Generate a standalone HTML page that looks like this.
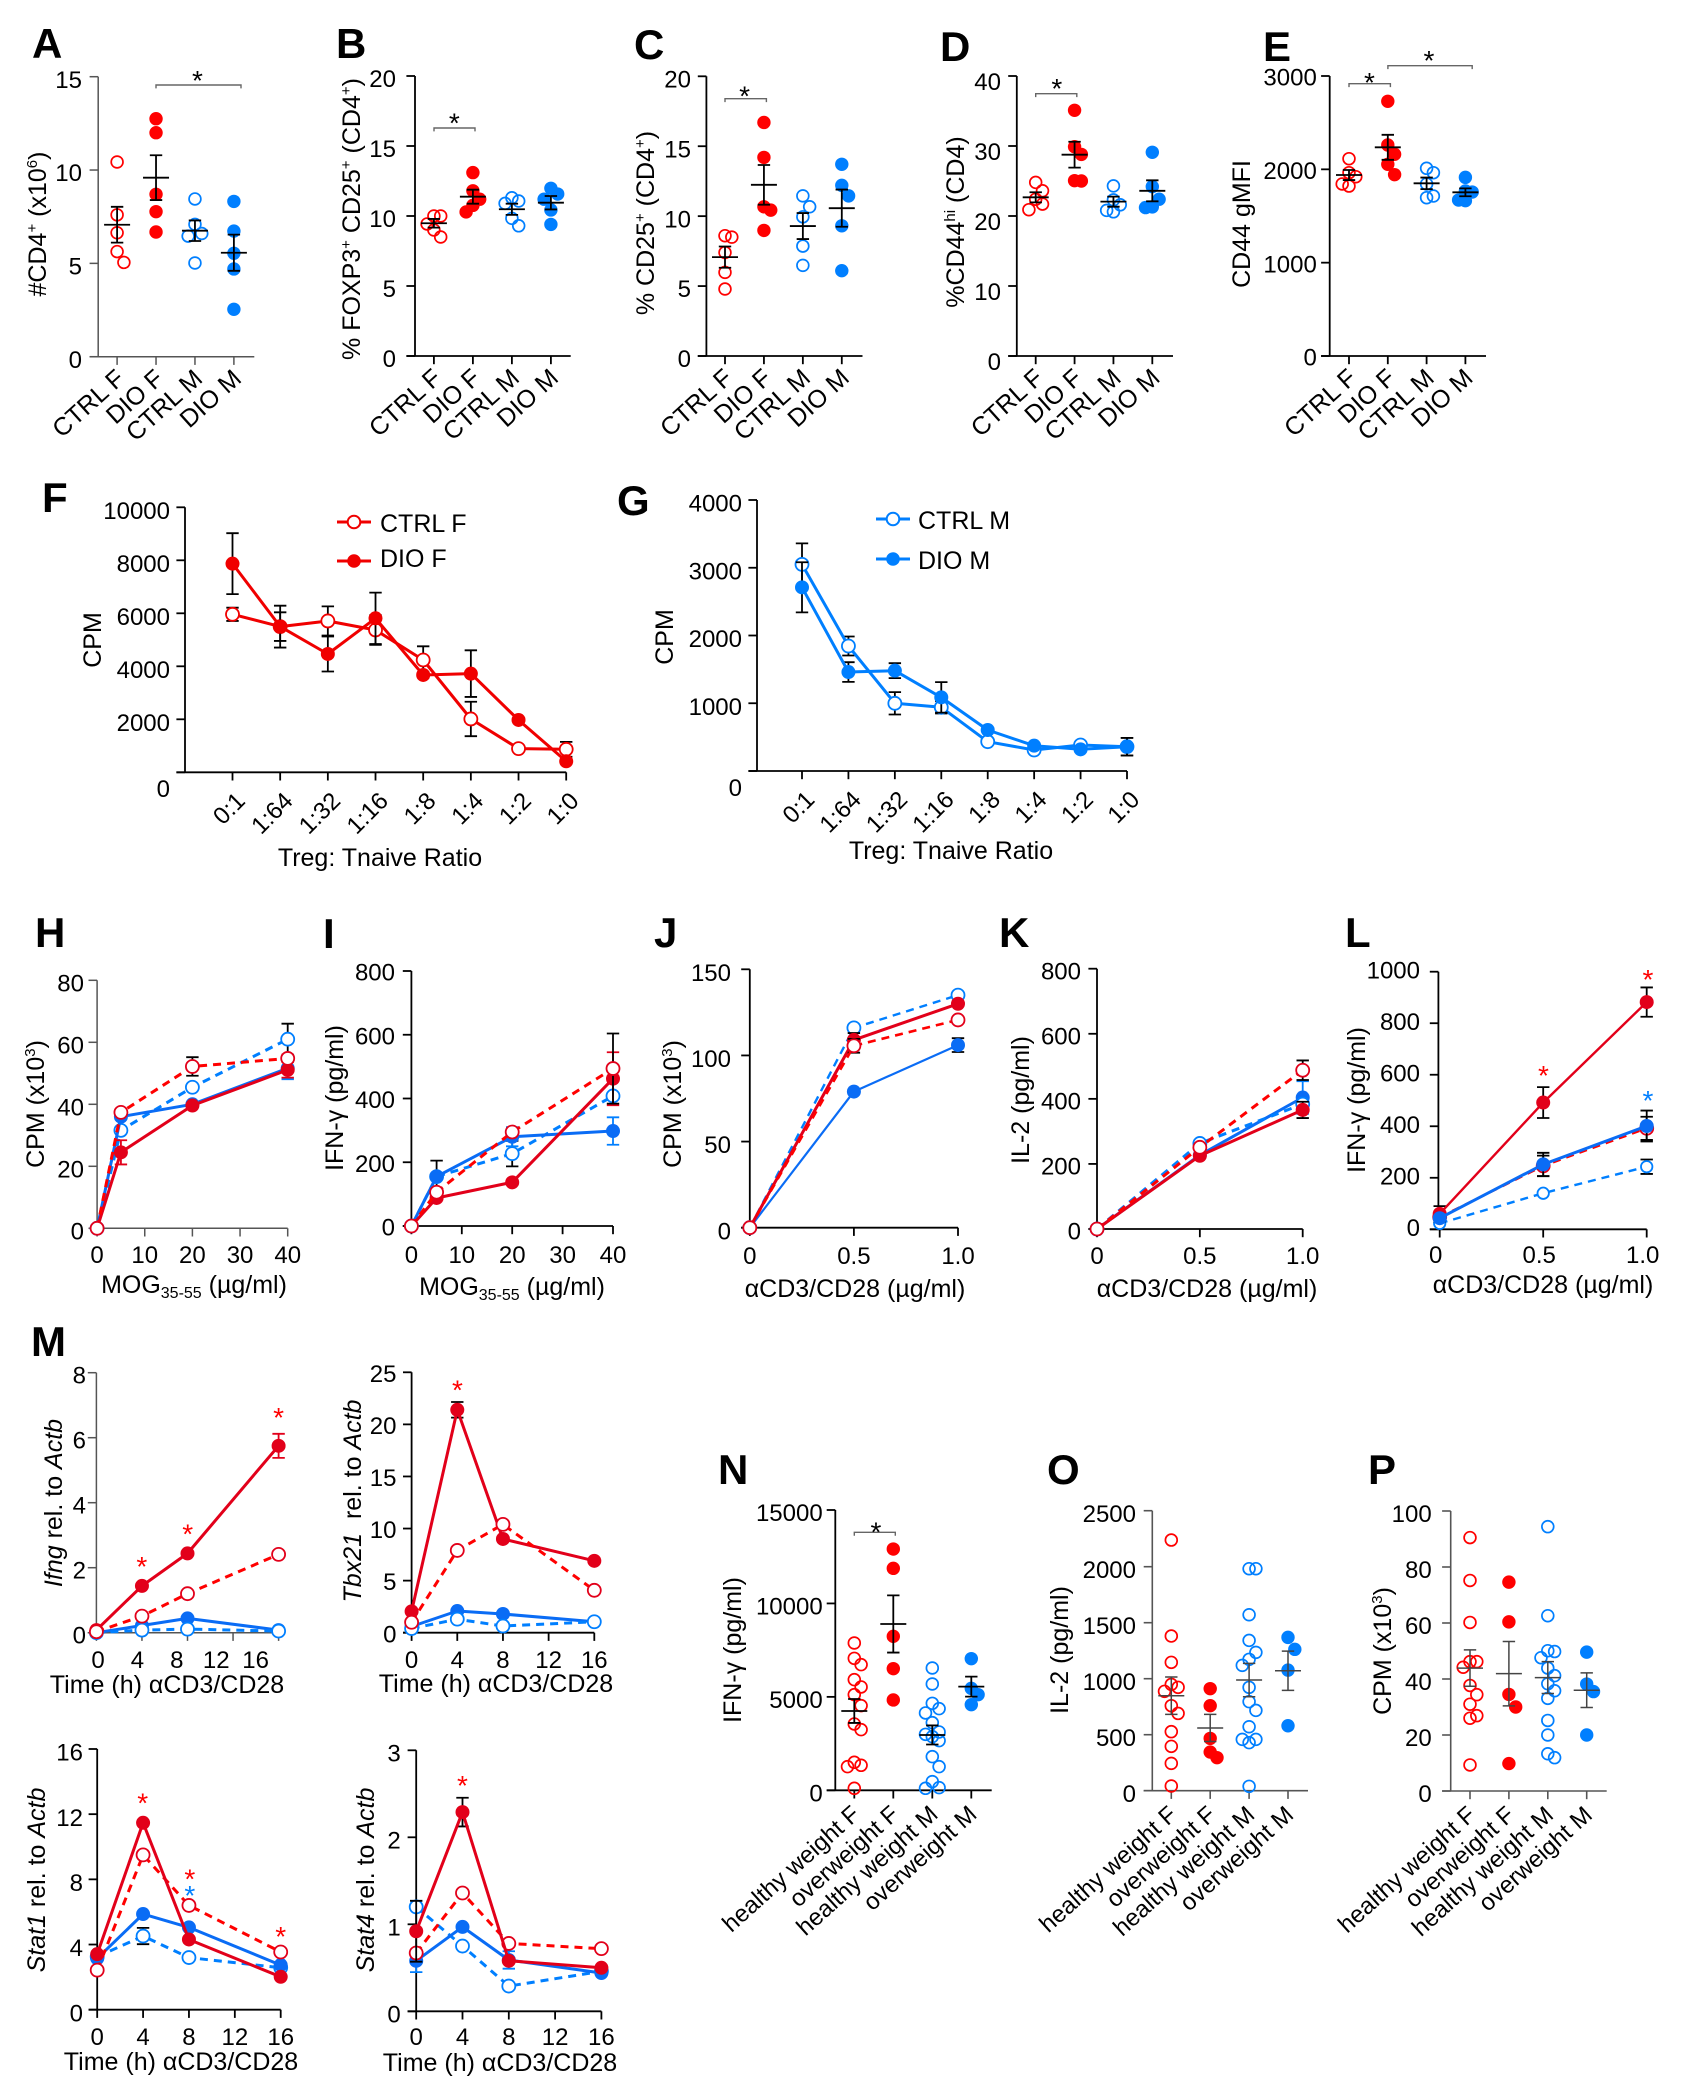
<!DOCTYPE html>
<html lang="en">
<head>
<meta charset="utf-8">
<title>T cell response panels A-P</title>
<style>
html,body{margin:0;padding:0;background:#fff;}
svg{display:block;font-family:"Liberation Sans",Arial,sans-serif;fill:#000;}
.t{font-size:25px;}
.l{font-size:42px;font-weight:700;}
.i{font-style:italic;}
</style>
</head>
<body>
<svg id="figure" xmlns="http://www.w3.org/2000/svg" width="1683" height="2100" viewBox="0 0 1683 2100">
<rect width="1683" height="2100" fill="#fff"/>

<!-- panel letters -->
<g>
<text class="l" x="32" y="58">A</text>
<text class="l" x="336" y="58">B</text>
<text class="l" x="634" y="59">C</text>
<text class="l" x="940" y="61">D</text>
<text class="l" x="1263" y="61">E</text>
<text class="l" x="42" y="512">F</text>
<text class="l" x="617" y="515">G</text>
<text class="l" x="35" y="947">H</text>
<text class="l" x="323" y="948">I</text>
<text class="l" x="654" y="947">J</text>
<text class="l" x="999" y="947">K</text>
<text class="l" x="1345" y="947">L</text>
<text class="l" x="31" y="1356">M</text>
<text class="l" x="718" y="1484">N</text>
<text class="l" x="1047" y="1484">O</text>
<text class="l" x="1368" y="1484">P</text>
</g>

<!-- axis titles -->
<g text-anchor="middle">
<text class="t" transform="translate(46,224) rotate(-90)">#CD4<tspan dy="-9" font-size="15">+</tspan><tspan dy="9"> (x10</tspan><tspan dy="-9" font-size="15">6</tspan><tspan dy="9">)</tspan></text>
<text class="t" transform="translate(360,219) rotate(-90)">% FOXP3<tspan dy="-9" font-size="15">+</tspan><tspan dy="9"> CD25</tspan><tspan dy="-9" font-size="15">+</tspan><tspan dy="9"> (CD4</tspan><tspan dy="-9" font-size="15">+</tspan><tspan dy="9">)</tspan></text>
<text class="t" transform="translate(654,223) rotate(-90)">% CD25<tspan dy="-9" font-size="15">+</tspan><tspan dy="9"> (CD4</tspan><tspan dy="-9" font-size="15">+</tspan><tspan dy="9">)</tspan></text>
<text class="t" transform="translate(964,222) rotate(-90)">%CD44<tspan dy="-9" font-size="15">hi</tspan><tspan dy="9"> (CD4)</tspan></text>
<text class="t" transform="translate(1250,224) rotate(-90)">CD44 gMFI</text>

<text class="t" transform="translate(101,640) rotate(-90)">CPM</text>
<text class="t" x="380" y="866">Treg: Tnaive Ratio</text>
<text class="t" transform="translate(673,637) rotate(-90)">CPM</text>
<text class="t" x="951" y="859">Treg: Tnaive Ratio</text>

<text class="t" transform="translate(44,1104) rotate(-90)">CPM (x10<tspan dy="-9" font-size="15">3</tspan><tspan dy="9">)</tspan></text>
<text class="t" x="194" y="1293">MOG<tspan dy="5" font-size="16">35-55</tspan><tspan dy="-5"> (µg/ml)</tspan></text>
<text class="t" transform="translate(343,1098) rotate(-90)">IFN-γ (pg/ml)</text>
<text class="t" x="512" y="1295">MOG<tspan dy="5" font-size="16">35-55</tspan><tspan dy="-5"> (µg/ml)</tspan></text>
<text class="t" transform="translate(681,1104) rotate(-90)">CPM (x10<tspan dy="-9" font-size="15">3</tspan><tspan dy="9">)</tspan></text>
<text class="t" x="855" y="1297">αCD3/CD28 (µg/ml)</text>
<text class="t" transform="translate(1029,1100) rotate(-90)">IL-2 (pg/ml)</text>
<text class="t" x="1207" y="1297">αCD3/CD28 (µg/ml)</text>
<text class="t" transform="translate(1365,1100) rotate(-90)">IFN-γ (pg/ml)</text>
<text class="t" x="1543" y="1293">αCD3/CD28 (µg/ml)</text>

<text class="t" transform="translate(62,1503) rotate(-90)"><tspan class="i">Ifng</tspan> rel. to <tspan class="i">Actb</tspan></text>
<text class="t" x="167" y="1693">Time (h) αCD3/CD28</text>
<text class="t" transform="translate(361,1501) rotate(-90)"><tspan class="i">Tbx21</tspan><tspan dx="7"> rel. to </tspan><tspan class="i">Actb</tspan></text>
<text class="t" x="496" y="1692">Time (h) αCD3/CD28</text>
<text class="t" transform="translate(45,1880) rotate(-90)"><tspan class="i">Stat1</tspan> rel. to <tspan class="i">Actb</tspan></text>
<text class="t" x="181" y="2070">Time (h) αCD3/CD28</text>
<text class="t" transform="translate(374,1880) rotate(-90)"><tspan class="i">Stat4</tspan> rel. to <tspan class="i">Actb</tspan></text>
<text class="t" x="500" y="2071">Time (h) αCD3/CD28</text>

<text class="t" transform="translate(741,1650) rotate(-90)">IFN-γ (pg/ml)</text>
<text class="t" transform="translate(1068,1650) rotate(-90)">IL-2 (pg/ml)</text>
<text class="t" transform="translate(1391,1651) rotate(-90)">CPM (x10<tspan dy="-9" font-size="15">3</tspan><tspan dy="9">)</tspan></text>
</g>

<!-- legends -->
<g>
<g>
<line x1="337" x2="371" y1="522" y2="522" stroke="#f00000" stroke-width="3"/>
<circle cx="354" cy="522" r="6.3" fill="#fff" stroke="#f00000" stroke-width="2"/>
<text class="t" x="380" y="532">CTRL F</text>
</g>
<g>
<line x1="337" x2="371" y1="561" y2="561" stroke="#f00000" stroke-width="3"/>
<circle cx="354" cy="561" r="6.8" fill="#f00000"/>
<text class="t" x="380" y="567">DIO F</text>
</g>
</g>
<g>
<g>
<line x1="876" x2="910" y1="519" y2="519" stroke="#007fff" stroke-width="3"/>
<circle cx="893" cy="519" r="6.3" fill="#fff" stroke="#007fff" stroke-width="2"/>
<text class="t" x="918" y="529">CTRL M</text>
</g>
<g>
<line x1="876" x2="910" y1="559" y2="559" stroke="#007fff" stroke-width="3"/>
<circle cx="893" cy="559" r="6.8" fill="#007fff"/>
<text class="t" x="918" y="569">DIO M</text>
</g>
</g>

<g id="marks"></g>
</svg>

<script>
/* ---------- category and tick labels ---------- */
const categoriesDio = ['CTRL F', 'DIO F', 'CTRL M', 'DIO M'];
const categoriesWeight = ['healthy weight F', 'overweight F', 'healthy weight M', 'overweight M'];
const ratioLabels = ['0:1', '1:64', '1:32', '1:16', '1:8', '1:4', '1:2', '1:0'];
const ratioIndex = [0, 1, 2, 3, 4, 5, 6, 7];
const timePoints = [0, 4, 8, 16];
const timeTicks = [0, 4, 8, 12, 16];
const doseAntiCd3 = [0, 0.5, 1];
const doseMog = [0, 5, 20, 40];

/* ---------- panel A ---------- */
const panelA_values = [[10.43, 7.6, 6.64, 5.63, 5.05], [12.75, 12.0, 8.7, 7.77, 6.68], [8.45, 7.09, 6.6, 6.46, 5.02], [8.32, 6.73, 5.54, 4.7, 2.54]];
const panelA_mean = [7.07, 9.59, 6.75, 5.57];
const panelA_sem = [0.96, 1.2, 0.55, 0.97];
const panelA_ticks = [0, 5, 10, 15];
/* ---------- panel B ---------- */
const panelB_values = [[10, 10, 9.43, 9.0, 8.5], [13.1, 11.8, 11.2, 10.76, 10.29], [11.3, 11.07, 10.9, 9.83, 9.3], [11.98, 11.57, 11.2, 10.43, 9.4]];
const panelB_mean = [9.48, 11.38, 10.48, 10.95];
const panelB_sem = [0.31, 0.5, 0.4, 0.48];
const panelB_ticks = [0, 5, 10, 15, 20];
/* ---------- panel C ---------- */
const panelC_values = [[8.6, 8.5, 7.4, 5.98, 4.79], [16.7, 14.2, 10.67, 10.43, 8.98], [11.45, 10.67, 9.95, 7.86, 6.48], [13.71, 12.2, 11.45, 9.31, 6.1]];
const panelC_mean = [7.07, 12.24, 9.29, 10.57];
const panelC_sem = [0.76, 1.42, 0.93, 1.33];
const panelC_ticks = [0, 5, 10, 15, 20];
/* ---------- panel D ---------- */
const panelD_values = [[24.8, 23.6, 22.4, 21.7, 20.9], [35.1, 29.9, 28.8, 25.05, 25.0], [24.3, 22.3, 21.6, 20.8, 20.6], [29.1, 24.2, 22.4, 21.3, 21.2]];
const panelD_mean = [22.67, 28.76, 22.05, 23.6];
const panelD_sem = [0.72, 1.85, 0.72, 1.5];
const panelD_ticks = [0, 10, 20, 30, 40];
/* ---------- panel E ---------- */
const panelE_values = [[2114, 1964, 1921, 1843, 1821], [2729, 2261, 2161, 2054, 1943], [2011, 1964, 1843, 1714, 1696], [1914, 1768, 1757, 1671, 1664]];
const panelE_mean = [1939, 2236, 1850, 1754];
const panelE_sem = [54, 134, 62, 42];
const panelE_ticks = [0, 1000, 2000, 3000];
/* ---------- panel N ---------- */
const panelN_values = [[7883, 7063, 6724, 5921, 5529, 5119, 4530, 3549, 3246, 1498, 1338, 1266, 107], [12912, 11878, 8240, 6510, 4833], [6545, 5689, 4655, 4370, 4138, 3620, 3121, 2996, 2871, 2657, 1801, 1266, 464, 143, 107], [7045, 5457, 5119, 4584]];
const panelN_mean = [4245, 8900, 2960, 5547];
const panelN_sem = [640, 1530, 510, 535];
const panelN_ticks = [0, 5000, 10000, 15000];
/* ---------- panel O ---------- */
const panelO_values = [[2238, 1381, 1146, 949, 923, 887, 759, 690, 527, 396, 244, 42], [911, 759, 467, 345, 295], [1982, 1982, 1571, 1342, 1235, 1173, 1119, 923, 795, 717, 571, 458, 458, 429, 39], [1369, 1262, 1077, 580]];
const panelO_mean = [848, 560, 988, 1071];
const panelO_sem = [167, 121, 149, 175];
const panelO_ticks = [0, 500, 1000, 1500, 2000, 2500];
/* ---------- panel P ---------- */
const panelP_values = [[90.5, 75.2, 60.2, 46.2, 46.2, 44.2, 37.7, 34.4, 31, 26.9, 26, 9.3], [74.6, 60.4, 34.5, 30, 9.8], [94.4, 62.6, 50.1, 49.8, 47.6, 43.9, 41.2, 38.3, 35.8, 33.1, 25.2, 20, 13.3, 11.9], [49.6, 38.2, 35.5, 20]];
const panelP_mean = [43.9, 41.9, 40.5, 36];
const panelP_sem = [6.5, 11.5, 5.7, 6.2];
const panelP_ticks = [0, 20, 40, 60, 80, 100];

/* ---------- panel F ---------- */
const panelF_ctrl = [5962, 5497, 5711, 5371, 4239, 2013, 893, 868];
const panelF_ctrlSem = [250, 540, 550, 560, 515, 650, 60, 280];
const panelF_dio = [7874, 5497, 4465, 5811, 3673, 3723, 1975, 415];
const panelF_dioSem = [1150, 790, 660, 970, 100, 880, 60, 60];
const panelF_ticks = [0, 2000, 4000, 6000, 8000, 10000];
/* ---------- panel G ---------- */
const panelG_ctrl = [3050, 1845, 999, 940, 433, 310, 384, 359];
const panelG_ctrlSem = [310, 140, 165, 90, 30, 30, 30, 130];
const panelG_dio = [2711, 1461, 1481, 1087, 605, 374, 320, 359];
const panelG_dioSem = [370, 145, 110, 225, 30, 30, 30, 130];
const panelG_ticks = [0, 1000, 2000, 3000, 4000];

/* ---------- panel H ---------- */
const panelH_ctrlF = [0, 37.4, 52.2, 54.8];
const panelH_ctrlFSem = [0, 0, 3, 0];
const panelH_dioF = [0, 24.5, 39.6, 51.1];
const panelH_dioFSem = [0, 3.9, 0, 2.5];
const panelH_ctrlM = [0, 31.6, 45.5, 61];
const panelH_ctrlMSem = [0, 0, 0, 5];
const panelH_dioM = [0, 36, 40, 51.6];
const panelH_dioMSem = [0, 0, 0, 3.5];
const panelH_ticks = [0, 20, 40, 60, 80];
const panelH_xTicks = [0, 10, 20, 30, 40];
/* ---------- panel I ---------- */
const panelI_ctrlF = [0, 106, 295, 494];
const panelI_ctrlFSem = [0, 0, 10, 110];
const panelI_dioF = [0, 88, 137, 462];
const panelI_dioFSem = [0, 0, 0, 83];
const panelI_ctrlM = [0, 155, 227, 408];
const panelI_ctrlMSem = [0, 50, 40, 0];
const panelI_dioM = [0, 155, 280, 298];
const panelI_dioMSem = [0, 0, 30, 43];
const panelI_ticks = [0, 200, 400, 600, 800];
const panelI_xTicks = [0, 10, 20, 30, 40];
/* ---------- panel J ---------- */
const panelJ_ctrlF = [0, 105.6, 120.6];
const panelJ_ctrlFSem = [0, 4, 0];
const panelJ_dioF = [0, 109, 130];
const panelJ_dioFSem = [0, 4, 0];
const panelJ_ctrlM = [0, 116, 135];
const panelJ_ctrlMSem = [0, 0, 0];
const panelJ_dioM = [0, 79, 106];
const panelJ_dioMSem = [0, 0, 4];
const panelJ_ticks = [0, 50, 100, 150];
/* ---------- panel K ---------- */
const panelK_ctrlF = [0, 251, 488];
const panelK_ctrlFSem = [0, 0, 30];
const panelK_dioF = [0, 225, 366];
const panelK_dioFSem = [0, 0, 25];
const panelK_ctrlM = [0, 263, 384];
const panelK_ctrlMSem = [0, 0, 0];
const panelK_dioM = [0, 227, 404];
const panelK_dioMSem = [0, 0, 50];
const panelK_ticks = [0, 200, 400, 600, 800];
/* ---------- panel L ---------- */
const panelL_ctrlF = [47, 246, 392];
const panelL_ctrlFSem = [0, 40, 45];
const panelL_dioF = [60, 492, 882];
const panelL_dioFSem = [30, 60, 57];
const panelL_ctrlM = [23, 140, 243];
const panelL_ctrlMSem = [0, 5, 28];
const panelL_dioM = [43, 252, 401];
const panelL_dioMSem = [0, 45, 60];
const panelL_ticks = [0, 200, 400, 600, 800, 1000];

/* ---------- panel M: Ifng ---------- */
const ifng_ctrlF = [0.03, 0.51, 1.2, 2.41];
const ifng_dioF = [0.08, 1.44, 2.44, 5.75];
const ifng_dioFSem = [0, 0, 0, 0.37];
const ifng_ctrlM = [0, 0.08, 0.11, 0.05];
const ifng_dioM = [0, 0.22, 0.44, 0.08];
const ifng_ticks = [0, 2, 4, 6, 8];
/* ---------- panel M: Tbx21 ---------- */
const tbx21_ctrlF = [1, 7.9, 10.4, 4.07];
const tbx21_dioF = [2.05, 21.4, 9, 6.9];
const tbx21_dioFSem = [0, 0.75, 0, 0];
const tbx21_ctrlM = [0.4, 1.3, 0.64, 1.05];
const tbx21_dioM = [0.6, 2.08, 1.8, 1.05];
const tbx21_ticks = [0, 5, 10, 15, 20, 25];
/* ---------- panel M: Stat1 ---------- */
const stat1_ctrlF = [2.43, 9.5, 6.4, 3.54];
const stat1_dioF = [3.41, 11.47, 4.31, 2.02];
const stat1_ctrlM = [3.25, 4.52, 3.2, 2.58];
const stat1_ctrlMSem = [0, 0.5, 0, 0];
const stat1_dioM = [3.15, 5.87, 5.05, 2.74];
const stat1_ticks = [0, 4, 8, 12, 16];
/* ---------- panel M: Stat4 ---------- */
const stat4_ctrlF = [0.67, 1.36, 0.78, 0.72];
const stat4_dioF = [0.92, 2.29, 0.58, 0.5];
const stat4_dioFSem = [0.35, 0.165, 0, 0];
const stat4_ctrlM = [1.2, 0.75, 0.29, 0.46];
const stat4_dioM = [0.58, 0.97, 0.59, 0.44];
const stat4_dioMSem = [0.13, 0, 0.1, 0];
const stat4_ticks = [0, 1, 2, 3];

/* ---------- drawing helpers ---------- */
const NS = 'http://www.w3.org/2000/svg';
const root = document.getElementById('marks');
const RED = '#ff0000', DRED = '#e2001a', BLUE = '#007fff', DBLUE = '#0a6cf5';

function mk(parent, tag, attrs) {
  const el = document.createElementNS(NS, tag);
  for (const k in attrs) el.setAttribute(k, attrs[k]);
  parent.appendChild(el);
  return el;
}
function newPanel(name) {
  const g = mk(root, 'g', {});
  
  
  return g;
}
function linear(d0, d1, r0, r1) {
  return v => r0 + (v - d0) / (d1 - d0) * (r1 - r0);
}
function drawAxes(g, c, y) {
  const ink = c.axisColor || '#000', w = c.axisW || 1.8, len = c.tickLen || 8.6;
  const yAxis = mk(g, 'line', {x1: c.ax, x2: c.ax, y1: c.yTop, y2: c.y0, stroke: ink, 'stroke-width': w});
  
  
  const xAxis = mk(g, 'line', {x1: c.ax - len, x2: c.axEnd, y1: c.y0, y2: c.y0, stroke: ink, 'stroke-width': w});
  
  
  c.yTicks.forEach(v => {
    const t = mk(g, 'line', {x1: c.ax - len, x2: c.ax, y1: y(v), y2: y(v), stroke: ink, 'stroke-width': w});
    
    
    const dy = (v === 0 && c.zeroDy !== undefined) ? c.zeroDy : (c.labelDy === undefined ? 2.5 : c.labelDy);
    const lab = mk(g, 'text', {x: c.labelRight, y: y(v) + dy + 8.6, 'text-anchor': 'end', 'font-size': 24});
    lab.textContent = String(v);
    
    
  });
}
function xTick(g, c, px, txt, rotated) {
  const ink = c.axisColor || '#000', w = c.axisW || 1.8;
  const t = mk(g, 'line', {x1: px, x2: px, y1: c.y0, y2: c.y0 + 8.2, stroke: ink, 'stroke-width': w});
  
  
  const lab = rotated
    ? mk(g, 'text', {'text-anchor': 'end', 'font-size': c.rotFont || 24,
        transform: 'translate(' + (px + c.rotDx) + ',' + (c.y0 + c.rotDy) + ') rotate(' + c.rotA + ')'})
    : mk(g, 'text', {'text-anchor': 'middle', 'font-size': 24, x: c.xLabelX(px), y: c.xLabelY});
  lab.textContent = txt;
  
  
}
function errorBar(g, x, yHi, yLo, cap, color, w) {
  const e = mk(g, 'path', {d: 'M' + (x - cap) + ' ' + yHi + 'H' + (x + cap) + 'M' + x + ' ' + yHi + 'V' + yLo + 'M' + (x - cap) + ' ' + yLo + 'H' + (x + cap),
    fill: 'none', stroke: color, 'stroke-width': w});
  
  
}
function bracket(x1, x2, yb) {
  const b = mk(root, 'path', {d: 'M' + x1 + ' ' + (yb + 3.4) + 'V' + yb + 'H' + x2 + 'V' + (yb + 3.4), fill: 'none', stroke: '#666', 'stroke-width': 1.4});
  
  
}
function star(cx, cy, color) {
  const s = mk(root, 'text', {x: cx, y: cy + 16, 'text-anchor': 'middle', 'font-size': 28, fill: color || '#000'});
  s.textContent = '*';
  
  
}

/* scatter panel with a small beeswarm layout derived from the values */
const groupStyle = [
  {color: RED, open: true}, {color: RED, open: false},
  {color: BLUE, open: true}, {color: BLUE, open: false}
];
function drawScatter(c) {
  const g = newPanel(c.name);
  const y = linear(0, c.yMax, c.y0, c.yTop);
  const catX = i => c.cat0 + i * c.step;
  drawAxes(g, c, y);
  c.cats.forEach((label, i) => xTick(g, c, catX(i), label, true));
  c.values.forEach((vals, i) => {
    const st = groupStyle[i], placed = [];
    [...vals].sort((a, b) => b - a).forEach(v => {
      const py = y(v);
      let lane = 0, best = -1;
      for (const cand of [0, 1, -1]) {
        const near = placed.filter(p => p.lane === cand).map(p => Math.abs(p.py - py));
        const gap = near.length ? Math.min(...near) : 1e9;
        if (gap >= 13) { lane = cand; best = gap; break; }
        if (gap > best) { best = gap; lane = cand; }
      }
      placed.push({lane: lane, py: py});
      const dot = mk(g, 'circle', {cx: catX(i) + lane * 6.8, cy: py, r: st.open ? 5.9 : 6.7,
        fill: st.open ? 'none' : st.color, stroke: st.open ? st.color : 'none', 'stroke-width': 1.7});
      
      
    });
  });
  const barInk = c.barColor || '#000', barW = c.barW || 1.8;
  c.mean.forEach((m, i) => {
    const bar = mk(g, 'line', {x1: catX(i) - 13, x2: catX(i) + 13, y1: y(m), y2: y(m), stroke: barInk, 'stroke-width': barW});
    
    
    errorBar(g, catX(i), y(m + c.sem[i]), y(m - c.sem[i]), 6.2, barInk, barW);
  });
}

/* line panel */
const seriesStyle = {
  ctrlF: {color: RED, mark: DRED, dash: '8 6', open: true},
  dioF: {color: DRED, mark: DRED, dash: null, open: false},
  ctrlM: {color: BLUE, mark: BLUE, dash: '8 6', open: true},
  dioM: {color: DBLUE, mark: DBLUE, dash: null, open: false},
  solidCtrlF: {color: '#f00000', mark: '#f00000', dash: null, open: true},
  solidDioF: {color: '#f00000', mark: '#f00000', dash: null, open: false},
  solidCtrlM: {color: BLUE, mark: BLUE, dash: null, open: true},
  solidDioM: {color: BLUE, mark: BLUE, dash: null, open: false}
};
function drawLines(c) {
  const g = newPanel(c.name);
  const y = linear(0, c.yMax, c.y0, c.yTop);
  const x = linear(c.xDomain[0], c.xDomain[1], c.xRange[0], c.xRange[1]);
  c.xLabelX = c.xLabelX || (px => px);
  drawAxes(g, c, y);
  c.xTicks.forEach((v, i) => xTick(g, c, x(v), c.xLabels ? c.xLabels[i] : String(v), c.rotate));
  c.series.forEach(s => {
    const st = seriesStyle[s.style], r = s.r || 7;
    const sg = mk(g, 'g', {});
    
    
    if (s.sem) s.vals.forEach((v, i) => {
      if (s.sem[i] > 0) errorBar(sg, x(c.xs[i]), y(v + s.sem[i]), y(Math.max(0, v - s.sem[i])), 6.2, s.err || '#000', 1.8);
    });
    const pts = s.vals.map((v, i) => x(c.xs[i]).toFixed(1) + ',' + y(v).toFixed(1)).join(' ');
    const attrs = {points: pts, fill: 'none', stroke: st.color, 'stroke-width': s.lw || 3, 'stroke-linejoin': 'round'};
    if (st.dash) attrs['stroke-dasharray'] = st.dash;
    const line = mk(sg, 'polyline', attrs);
    
    
    s.vals.forEach((v, i) => {
      const pt = mk(sg, 'circle', {cx: x(c.xs[i]), cy: y(v), r: st.open ? r - 0.5 : r,
        fill: st.open ? '#fff' : st.mark, stroke: st.open ? st.mark : 'none', 'stroke-width': 1.8});
      
      
    });
  });
}

/* ---------- panels A-E ---------- */
const rotDio = {rotDx: 9, rotDy: 24, rotA: -42, rotFont: 25};
const rotWeight = {rotDx: 7, rotDy: 26, rotA: -42, rotFont: 24};
drawScatter({name: 'panel-a', ax: 98.2, axEnd: 254.3, y0: 356.7, yTop: 76.7, yMax: 15, yTicks: panelA_ticks, labelRight: 82, cat0: 117.1, step: 38.93, cats: categoriesDio, values: panelA_values, mean: panelA_mean, sem: panelA_sem, axisColor: '#555', axisW: 1.5, ...rotDio});
drawScatter({name: 'panel-b', ax: 415, axEnd: 570.7, y0: 356, yTop: 76, yMax: 20, yTicks: panelB_ticks, labelRight: 396, cat0: 433.9, step: 39, cats: categoriesDio, values: panelB_values, mean: panelB_mean, sem: panelB_sem, ...rotDio});
drawScatter({name: 'panel-c', ax: 706.4, axEnd: 862.5, y0: 356, yTop: 76.3, yMax: 20, yTicks: panelC_ticks, labelRight: 691, cat0: 725, step: 38.93, cats: categoriesDio, values: panelC_values, mean: panelC_mean, sem: panelC_sem, ...rotDio});
drawScatter({name: 'panel-d', ax: 1016.8, axEnd: 1173, y0: 356, yTop: 76, yMax: 40, yTicks: panelD_ticks, labelRight: 1001, labelDy: 5.5, cat0: 1035.7, step: 38.87, cats: categoriesDio, values: panelD_values, mean: panelD_mean, sem: panelD_sem, ...rotDio});
drawScatter({name: 'panel-e', ax: 1329.7, axEnd: 1486, y0: 356, yTop: 76, yMax: 3000, yTicks: panelE_ticks, labelRight: 1316.8, labelDy: 1, cat0: 1349, step: 38.8, cats: categoriesDio, values: panelE_values, mean: panelE_mean, sem: panelE_sem, ...rotDio});

/* ---------- panels N-P ---------- */
drawScatter({name: 'panel-n', ax: 835.3, axEnd: 991.7, y0: 1790.3, yTop: 1510, yMax: 15000, yTicks: panelN_ticks, labelRight: 822.7, cat0: 854.3, step: 39, cats: categoriesWeight, values: panelN_values, mean: panelN_mean, sem: panelN_sem, ...rotWeight});
drawScatter({name: 'panel-o', ax: 1152.3, axEnd: 1308, y0: 1790.7, yTop: 1510.7, yMax: 2500, yTicks: panelO_ticks, labelRight: 1136, cat0: 1171.3, step: 38.9, cats: categoriesWeight, values: panelO_values, mean: panelO_mean, sem: panelO_sem, axisColor: '#555', axisW: 1.6, barColor: '#444', barW: 1.5, ...rotWeight});
drawScatter({name: 'panel-p', ax: 1450.7, axEnd: 1606.7, y0: 1791, yTop: 1511, yMax: 100, yTicks: panelP_ticks, labelRight: 1431.7, cat0: 1470, step: 38.9, cats: categoriesWeight, values: panelP_values, mean: panelP_mean, sem: panelP_sem, axisColor: '#555', axisW: 1.6, barColor: '#444', barW: 1.5, ...rotWeight});

/* ---------- panels F, G ---------- */
drawLines({name: 'panel-f', ax: 185, axEnd: 566.2, y0: 772.3, yTop: 507.3, yMax: 10000, yTicks: panelF_ticks, labelRight: 170, zeroDy: 16, labelDy: 3,
  xs: ratioIndex, xDomain: [0, 7], xRange: [232.5, 566.2], xTicks: ratioIndex, xLabels: ratioLabels, rotate: true, rotDx: 14, rotDy: 30, rotA: -45,
  series: [
    {name: 'ctrl-f', style: 'solidCtrlF', vals: panelF_ctrl, sem: panelF_ctrlSem},
    {name: 'dio-f', style: 'solidDioF', vals: panelF_dio, sem: panelF_dioSem}
  ]});
drawLines({name: 'panel-g', ax: 757, axEnd: 1127, y0: 771, yTop: 500, yMax: 4000, yTicks: panelG_ticks, labelRight: 742, zeroDy: 16.5, labelDy: 3,
  xs: ratioIndex, xDomain: [0, 7], xRange: [802, 1127], xTicks: ratioIndex, xLabels: ratioLabels, rotate: true, rotDx: 14, rotDy: 30, rotA: -45,
  series: [
    {name: 'ctrl-m', style: 'solidCtrlM', vals: panelG_ctrl, sem: panelG_ctrlSem},
    {name: 'dio-m', style: 'solidDioM', vals: panelG_dio, sem: panelG_dioSem}
  ]});

/* ---------- panels H-L ---------- */
drawLines({name: 'panel-h', ax: 97.1, axEnd: 287.7, y0: 1228.3, yTop: 980.3, yMax: 80, yTicks: panelH_ticks, labelRight: 84, axisColor: '#555', axisW: 1.5,
  xs: doseMog, xDomain: [0, 40], xRange: [97.1, 287.7], xTicks: panelH_xTicks, xLabelY: 1263,
  series: [
    {name: 'ctrl-m', style: 'ctrlM', vals: panelH_ctrlM, sem: panelH_ctrlMSem},
    {name: 'dio-m', style: 'dioM', vals: panelH_dioM, sem: panelH_dioMSem, err: BLUE},
    {name: 'dio-f', style: 'dioF', vals: panelH_dioF, sem: panelH_dioFSem, err: DRED},
    {name: 'ctrl-f', style: 'ctrlF', vals: panelH_ctrlF, sem: panelH_ctrlFSem}
  ]});
drawLines({name: 'panel-i', ax: 411.4, axEnd: 613, y0: 1226, yTop: 971, yMax: 800, yTicks: panelI_ticks, labelRight: 395, labelDy: 1,
  xs: doseMog, xDomain: [0, 40], xRange: [411.4, 613], xTicks: panelI_xTicks, xLabelY: 1263,
  series: [
    {name: 'ctrl-m', style: 'ctrlM', vals: panelI_ctrlM, sem: panelI_ctrlMSem},
    {name: 'dio-m', style: 'dioM', vals: panelI_dioM, sem: panelI_dioMSem, err: BLUE},
    {name: 'dio-f', style: 'dioF', vals: panelI_dioF, sem: panelI_dioFSem, err: DRED},
    {name: 'ctrl-f', style: 'ctrlF', vals: panelI_ctrlF, sem: panelI_ctrlFSem}
  ]});
drawLines({name: 'panel-j', ax: 749.8, axEnd: 958, y0: 1227.7, yTop: 969.3, yMax: 150, yTicks: panelJ_ticks, labelRight: 731, labelDy: 3,
  xs: doseAntiCd3, xDomain: [0, 1], xRange: [749.8, 958], xTicks: doseAntiCd3, xLabels: ['0', '0.5', '1.0'], xLabelY: 1264,
  series: [
    {name: 'ctrl-m', style: 'ctrlM', vals: panelJ_ctrlM, sem: panelJ_ctrlMSem, lw: 2.4},
    {name: 'dio-m', style: 'dioM', vals: panelJ_dioM, sem: panelJ_dioMSem, lw: 2.2},
    {name: 'dio-f', style: 'dioF', vals: panelJ_dioF, sem: panelJ_dioFSem, lw: 3},
    {name: 'ctrl-f', style: 'ctrlF', vals: panelJ_ctrlF, sem: panelJ_ctrlFSem, lw: 2.6}
  ]});
drawLines({name: 'panel-k', ax: 1097, axEnd: 1302.7, y0: 1229, yTop: 968.7, yMax: 800, yTicks: panelK_ticks, labelRight: 1081, labelDy: 2,
  xs: doseAntiCd3, xDomain: [0, 1], xRange: [1097, 1302.7], xTicks: doseAntiCd3, xLabels: ['0', '0.5', '1.0'], xLabelY: 1264,
  series: [
    {name: 'dio-m', style: 'dioM', vals: panelK_dioM, sem: panelK_dioMSem, err: BLUE},
    {name: 'ctrl-m', style: 'ctrlM', vals: panelK_ctrlM, sem: panelK_ctrlMSem},
    {name: 'dio-f', style: 'dioF', vals: panelK_dioF, sem: panelK_dioFSem},
    {name: 'ctrl-f', style: 'ctrlF', vals: panelK_ctrlF, sem: panelK_ctrlFSem}
  ]});
drawLines({name: 'panel-l', ax: 1438.4, axEnd: 1646.7, y0: 1229.3, yTop: 971.7, yMax: 1000, yTicks: panelL_ticks, labelRight: 1420, labelDy: -2,
  xs: doseAntiCd3, xDomain: [0, 1], xRange: [1439.7, 1646.7], xTicks: doseAntiCd3, xLabels: ['0', '0.5', '1.0'], xLabelY: 1263, xLabelX: px => px - 4,
  series: [
    {name: 'ctrl-f', style: 'ctrlF', vals: panelL_ctrlF, sem: panelL_ctrlFSem, lw: 2.4},
    {name: 'ctrl-m', style: 'ctrlM', vals: panelL_ctrlM, sem: panelL_ctrlMSem, lw: 2.4, r: 6.2},
    {name: 'dio-f', style: 'dioF', vals: panelL_dioF, sem: panelL_dioFSem, lw: 2.4},
    {name: 'dio-m', style: 'dioM', vals: panelL_dioM, sem: panelL_dioMSem, lw: 3}
  ]});

/* ---------- panel M ---------- */
drawLines({name: 'panel-m-ifng', ax: 96.4, axEnd: 278.6, y0: 1632.7, yTop: 1372.7, yMax: 8, yTicks: ifng_ticks, labelRight: 86, labelDy: 2, axisColor: '#555', axisW: 1.5,
  xs: timePoints, xDomain: [0, 16], xRange: [96.4, 278.6], xTicks: timeTicks, xLabelY: 1668, xLabelX: px => 98 + (px - 96.4) * 0.865,
  series: [
    {name: 'dio-m', style: 'dioM', vals: ifng_dioM},
    {name: 'ctrl-m', style: 'ctrlM', vals: ifng_ctrlM},
    {name: 'dio-f', style: 'dioF', vals: ifng_dioF, sem: ifng_dioFSem, err: DRED},
    {name: 'ctrl-f', style: 'ctrlF', vals: ifng_ctrlF}
  ]});
drawLines({name: 'panel-m-tbx21', ax: 411.6, axEnd: 594.3, y0: 1632.7, yTop: 1372.3, yMax: 25, yTicks: tbx21_ticks, labelRight: 396.5, labelDy: 1,
  xs: timePoints, xDomain: [0, 16], xRange: [411.6, 594.3], xTicks: timeTicks, xLabelY: 1668,
  series: [
    {name: 'dio-m', style: 'dioM', vals: tbx21_dioM},
    {name: 'ctrl-m', style: 'ctrlM', vals: tbx21_ctrlM},
    {name: 'dio-f', style: 'dioF', vals: tbx21_dioF, sem: tbx21_dioFSem},
    {name: 'ctrl-f', style: 'ctrlF', vals: tbx21_ctrlF}
  ]});
drawLines({name: 'panel-m-stat1', ax: 97.2, axEnd: 280.7, y0: 2009.7, yTop: 1749, yMax: 16, yTicks: stat1_ticks, labelRight: 83, labelDy: 3,
  xs: timePoints, xDomain: [0, 16], xRange: [97.2, 280.7], xTicks: timeTicks, xLabelY: 2045,
  series: [
    {name: 'ctrl-m', style: 'ctrlM', vals: stat1_ctrlM, sem: stat1_ctrlMSem},
    {name: 'dio-m', style: 'dioM', vals: stat1_dioM},
    {name: 'ctrl-f', style: 'ctrlF', vals: stat1_ctrlF},
    {name: 'dio-f', style: 'dioF', vals: stat1_dioF}
  ]});
drawLines({name: 'panel-m-stat4', ax: 416.2, axEnd: 601.4, y0: 2011.3, yTop: 1750.3, yMax: 3, yTicks: stat4_ticks, labelRight: 400.7, labelDy: 2.5,
  xs: timePoints, xDomain: [0, 16], xRange: [416.2, 601.4], xTicks: timeTicks, xLabelY: 2045,
  series: [
    {name: 'ctrl-m', style: 'ctrlM', vals: stat4_ctrlM},
    {name: 'dio-m', style: 'dioM', vals: stat4_dioM, sem: stat4_dioMSem, err: BLUE},
    {name: 'ctrl-f', style: 'ctrlF', vals: stat4_ctrlF},
    {name: 'dio-f', style: 'dioF', vals: stat4_dioF, sem: stat4_dioFSem}
  ]});

/* ---------- significance annotations ---------- */
bracket(156, 241, 85); star(197.5, 74);
bracket(434, 475, 128); star(454.3, 116.7);
bracket(725, 766.4, 98.7); star(744.6, 89.3);
bracket(1035.7, 1076.8, 93.7); star(1056.8, 82);
bracket(1349, 1390.4, 83.7); star(1369.5, 76);
bracket(1387.9, 1472.2, 65.7); star(1429, 54);
bracket(854.3, 895.3, 1532.3); star(876, 1525.7);
star(1543.5, 1069, RED); star(1648, 973, RED); star(1648, 1094, BLUE);
star(141.8, 1560, RED); star(187.7, 1527.3, RED); star(278.6, 1411, RED);
star(457.5, 1383.3, RED);
star(142.7, 1796.7, RED); star(189.8, 1872.3, RED); star(189.8, 1889, BLUE); star(280.7, 1930, RED);
star(462.5, 1779, RED);
</script>
</body>
</html>
